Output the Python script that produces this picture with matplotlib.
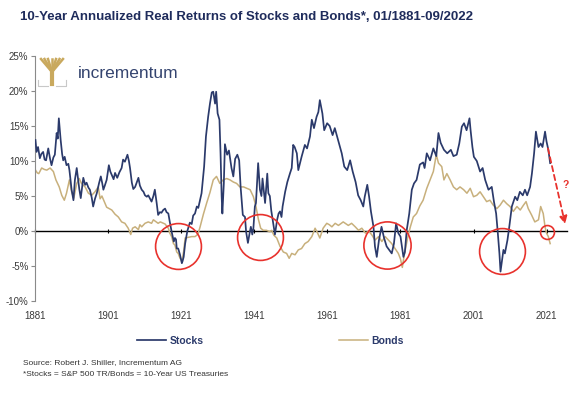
import matplotlib
matplotlib.use('Agg')
import matplotlib.pyplot as plt
from matplotlib.lines import Line2D

plt.rcParams['font.family'] = ['Liberation Sans', 'DejaVu Sans']

# values (year, annualized real return in %)
stock_years = [1881.0, 1881.3, 1881.7, 1882.2, 1882.6, 1883.1, 1883.5, 1883.9, 1884.5, 1885.0,
               1885.4, 1885.9, 1886.3, 1886.8, 1887.1, 1887.4, 1887.9, 1888.3, 1888.6, 1889.0,
               1889.5, 1890.0, 1890.3, 1890.9, 1891.4, 1891.8, 1892.3, 1892.7, 1893.0, 1893.4,
               1894.1, 1894.6, 1895.0, 1895.5, 1895.9, 1896.4, 1896.8, 1897.3, 1897.8, 1898.4,
               1898.9, 1899.3, 1899.6, 1900.0, 1900.5, 1901.1, 1901.5, 1901.9, 1902.4, 1902.8,
               1903.4, 1904.0, 1904.6, 1905.0, 1905.5, 1906.2, 1906.6, 1906.9, 1907.4, 1907.8,
               1908.3, 1908.8, 1909.2, 1909.6, 1910.1, 1910.6, 1911.0, 1911.5, 1911.9, 1912.4,
               1912.8, 1913.3, 1913.7, 1914.2, 1914.6, 1915.1, 1915.5, 1916.0, 1916.5, 1916.9,
               1917.4, 1917.8, 1918.3, 1918.9, 1919.2, 1919.5, 1919.7, 1920.1, 1920.6, 1921.1,
               1921.3, 1921.6, 1922.0, 1922.6, 1923.3, 1923.8, 1924.2, 1924.7, 1925.2, 1925.6,
               1926.1, 1926.5, 1927.2, 1927.7, 1928.3, 1928.8, 1929.3, 1929.7, 1930.2, 1930.5,
               1930.9, 1931.4, 1931.7, 1932.0, 1932.2, 1932.6, 1932.9, 1933.5, 1934.0, 1934.7,
               1935.2, 1935.7, 1936.3, 1936.8, 1937.2, 1937.8, 1938.4, 1938.7, 1939.2, 1939.6,
               1940.0, 1940.4, 1940.7, 1941.1, 1941.4, 1942.0, 1942.5, 1942.9, 1943.2, 1943.9,
               1944.5, 1944.8, 1945.2, 1945.6, 1946.0, 1946.6, 1947.2, 1947.6, 1948.0, 1948.4,
               1948.7, 1949.4, 1950.0, 1950.7, 1951.2, 1951.6, 1952.0, 1952.6, 1953.0, 1953.9,
               1954.8, 1955.4, 1956.2, 1956.7, 1957.3, 1958.0, 1958.5, 1958.9, 1959.6, 1960.1,
               1960.9, 1961.6, 1962.4, 1963.0, 1964.0, 1964.9, 1965.6, 1966.4, 1967.2, 1967.9,
               1968.7, 1969.4, 1970.1, 1970.8, 1971.2, 1971.9, 1972.4, 1972.9, 1973.6, 1974.0,
               1974.5, 1975.1, 1975.8, 1976.5, 1977.2, 1977.9, 1978.6, 1979.2, 1979.8, 1980.4,
               1981.0, 1981.8, 1982.2, 1982.7, 1983.4, 1984.1, 1984.7, 1985.4, 1986.3, 1987.2,
               1987.6, 1988.2, 1989.1, 1990.0, 1990.8, 1991.4, 1992.0, 1992.9, 1993.8, 1994.8,
               1995.5, 1996.4, 1997.1, 1997.8, 1998.4, 1999.1, 1999.9, 2000.2, 2000.7, 2001.1,
               2001.9, 2002.8, 2003.5, 2004.2, 2005.1, 2006.0, 2006.6, 2007.2, 2007.6, 2008.1,
               2008.4, 2008.8, 2009.2, 2009.6, 2010.3, 2010.8, 2011.5, 2012.4, 2013.0, 2013.7,
               2014.5, 2015.1, 2015.7, 2016.5, 2017.0, 2017.6, 2018.1, 2018.8, 2019.4, 2019.9,
               2020.6, 2021.0, 2021.5, 2022.0]
stocks = [13.0, 11.3, 12.0, 10.4, 11.0, 11.3, 10.2, 10.1, 11.8, 10.3,
          9.4, 10.5, 10.9, 14.0, 13.2, 16.1, 13.0, 11.0, 10.1, 10.6,
          9.4, 9.6, 8.7, 5.9, 4.4, 7.3, 9.0, 7.3, 6.0, 4.7,
          7.6, 6.6, 6.9, 6.2, 5.9, 4.8, 3.5, 4.6, 5.4, 6.8,
          7.8, 6.8, 5.9, 6.5, 7.3, 9.4, 8.5, 8.0, 7.4, 8.3,
          7.6, 8.4, 9.0, 10.2, 9.9, 10.9, 10.0, 9.0, 6.9, 6.0,
          6.3, 7.0, 7.6, 6.5, 5.9, 5.6, 5.1, 4.9, 5.1, 4.6,
          4.2, 5.0, 5.9, 4.0, 2.3, 2.7, 2.6, 3.0, 3.2, 2.7,
          2.5, 1.3, -0.1, -1.5, -1.0, -1.2, -2.5, -2.5, -3.4, -4.6,
          -4.3, -3.7, -1.8, 0.0, 1.2, 1.0, 2.2, 2.5, 3.5, 3.3,
          4.5, 5.4, 9.2, 13.5, 16.3, 18.2, 19.8, 19.9, 18.2, 19.9,
          16.8, 15.9, 11.1, 5.0, 2.5, 6.8, 12.4, 10.9, 11.5, 9.0,
          7.8, 10.3, 10.9, 10.1, 6.3, 2.3, 2.0, -0.1, -1.7, -0.5,
          0.6, -0.5, 0.4, 3.5, 4.0, 9.7, 5.9, 5.0, 7.5, 4.0,
          8.2, 5.4, 5.0, 2.9, 1.5, -0.5, 1.6, 2.5, 2.8, 2.0,
          3.5, 5.6, 7.0, 8.2, 9.0, 12.3, 12.0, 11.1, 8.7, 10.6,
          12.3, 11.8, 13.5, 15.9, 14.7, 16.3, 17.0, 18.7, 16.8, 14.4,
          15.4, 15.0, 13.7, 14.7, 12.8, 11.1, 9.2, 8.7, 10.1, 8.5,
          7.0, 5.1, 4.4, 3.5, 4.9, 6.6, 4.9, 2.8, 0.6, -2.2,
          -3.7, -1.3, 0.6, -1.0, -2.2, -2.7, -3.2, -1.8, 1.1, -0.3,
          -0.8, -3.7, -3.0, 0.1, 2.5, 5.9, 6.8, 7.3, 9.5, 9.8,
          9.0, 11.1, 10.1, 11.8, 10.7, 14.0, 12.6, 11.6, 11.1, 11.6,
          10.7, 10.9, 12.5, 14.9, 15.4, 14.4, 16.1, 14.4, 12.0, 10.6,
          10.0, 8.5, 9.0, 7.3, 5.9, 6.3, 4.2, 2.5, 0.1, -3.2,
          -5.8, -4.2, -2.7, -3.2, -1.3, 0.6, 3.5, 4.9, 4.4, 5.6,
          5.1, 5.9, 5.1, 6.3, 8.2, 11.1, 14.2, 12.0, 12.5, 12.0,
          14.2, 12.8, 11.6, 9.7]

bond_years = [1881.0, 1881.5, 1881.9, 1882.7, 1883.4, 1884.1, 1885.0, 1885.9, 1886.6, 1887.5,
              1888.2, 1888.9, 1889.5, 1890.3, 1890.9, 1891.5, 1892.3, 1893.0, 1893.6, 1894.6,
              1895.5, 1896.4, 1897.3, 1898.2, 1898.7, 1899.2, 1900.0, 1900.5, 1901.9, 1902.8,
              1903.7, 1904.2, 1904.6, 1905.5, 1906.4, 1907.1, 1907.6, 1908.3, 1909.2, 1909.6,
              1910.1, 1911.0, 1911.9, 1912.8, 1913.3, 1914.6, 1915.2, 1916.5, 1917.4, 1917.8,
              1918.3, 1918.8, 1919.2, 1919.7, 1920.1, 1920.6, 1920.9, 1921.1, 1921.6, 1922.0,
              1922.9, 1923.8, 1924.7, 1925.2, 1925.6, 1926.1, 1927.0, 1927.9, 1928.8, 1929.7,
              1930.6, 1931.5, 1932.4, 1933.4, 1934.3, 1935.2, 1936.1, 1937.0, 1938.0, 1938.9,
              1939.8, 1940.7, 1941.4, 1942.1, 1942.7, 1943.4, 1944.3, 1945.2, 1945.7, 1946.3,
              1947.1, 1948.0, 1948.9, 1949.8, 1950.5, 1951.2, 1952.1, 1953.0, 1953.9, 1954.8,
              1955.7, 1956.7, 1957.6, 1958.3, 1958.9, 1959.8, 1960.8, 1961.5, 1962.2, 1963.1,
              1964.0, 1965.3, 1966.7, 1967.6, 1968.6, 1969.5, 1970.4, 1971.4, 1972.3, 1973.2,
              1974.0, 1975.0, 1975.9, 1976.8, 1977.7, 1978.6, 1979.5, 1980.4, 1981.0, 1981.5,
              1982.0, 1982.5, 1983.1, 1983.7, 1984.5, 1985.4, 1986.3, 1987.2, 1988.2, 1989.1,
              1990.0, 1990.8, 1991.4, 1992.3, 1992.9, 1993.7, 1994.6, 1995.5, 1996.4, 1997.3,
              1998.3, 1999.2, 2000.1, 2001.0, 2001.9, 2002.8, 2003.7, 2004.6, 2005.5, 2006.4,
              2007.4, 2008.3, 2009.2, 2010.1, 2011.0, 2011.9, 2012.9, 2013.8, 2014.7, 2015.4,
              2016.0, 2016.9, 2017.8, 2018.8, 2019.4, 2020.1, 2020.6, 2021.0, 2021.5, 2022.0]
bonds = [8.7, 8.3, 8.2, 9.0, 8.8, 8.7, 9.0, 8.5, 7.3, 6.3,
         5.1, 4.4, 5.4, 7.3, 5.6, 4.7, 6.8, 7.5, 6.8, 6.3,
         5.4, 5.1, 5.6, 6.3, 4.6, 5.0, 4.0, 3.4, 3.0, 2.4,
         2.0, 1.6, 1.3, 1.1, 0.4, -0.5, 0.4, 0.6, 0.2, 0.9,
         0.6, 1.1, 1.3, 1.1, 1.6, 1.1, 1.3, 1.0, 0.4, -0.3,
         -0.8, -1.8, -2.0, -3.0, -3.2, -3.9, -4.1, -4.4, -2.9, -1.0,
         -0.9, -0.8, -0.8, -0.6, -0.3, 0.6, 2.4, 4.0, 5.5, 7.3,
         7.8, 6.8, 7.3, 7.5, 7.3, 7.0, 6.8, 6.3, 6.3, 6.1,
         5.9, 4.9, 3.5, 1.6, 0.4, 0.1, 0.1, -0.1, 0.1, -0.6,
         -1.0, -2.2, -3.0, -3.2, -3.9, -3.2, -3.4, -2.7, -2.5, -1.8,
         -1.5, -0.8, 0.4, -0.3, -1.0, 0.4, 1.1, 0.9, 0.6, 1.1,
         0.8, 1.3, 0.8, 1.1, 0.6, 0.1, 0.4, -0.3, 0.0, -0.6,
         -1.3, -0.8, -1.5, -0.8, -1.3, -1.8, -2.5, -3.2, -4.0, -5.2,
         -3.5, -2.2, -0.6, 0.6, 2.0, 2.5, 3.6, 4.4, 6.1, 7.3,
         8.5, 10.9, 9.7, 9.2, 7.3, 8.2, 7.3, 6.3, 5.9, 6.3,
         5.9, 5.4, 6.1, 4.9, 5.1, 5.6, 4.9, 4.2, 4.4, 3.7,
         3.2, 3.7, 4.4, 3.9, 3.5, 2.8, 3.5, 3.0, 3.7, 4.2,
         3.2, 2.3, 1.3, 1.6, 3.5, 2.5, 0.6, -0.3, -0.8, -1.8]

year_ticks = [1881, 1901, 1921, 1941, 1961, 1981, 2001, 2021]
pct_ticks = [-10, -5, 0, 5, 10, 15, 20, 25]

# highlighted episodes (year, value) and their circle sizes
circle_years = [1920.1, 1942.6, 1977.3, 2008.8, 2021.1]
circle_vals = [-2.2, -0.8, -2.0, -2.8, -0.2]
circle_sizes = [33, 33, 34, 33, 10]

navy = '#2b3a6b'
tan = '#c8b07c'
red = '#e8322d'

fig = plt.figure(figsize=(5.75, 3.99), dpi=100)
ax = fig.add_axes([0.0617, 0.2456, 0.9243, 0.614])

l_bonds, = ax.plot(bond_years, bonds, color=tan, lw=1.1, zorder=2)
l_stocks, = ax.plot(stock_years, stocks, color=navy, lw=1.25, zorder=3)

for cx, cy, s in zip(circle_years, circle_vals, circle_sizes):
    ax.plot(cx, cy, 'o', ms=s, mfc='none', mec=red, mew=1.2, zorder=4)

# dashed arrow with question mark
ax.annotate('', xy=(2026.1, 1.0), xytext=(2021.4, 11.8),
            arrowprops=dict(arrowstyle='-|>', color=red, lw=1.3, ls=(0, (3, 2)),
                            mutation_scale=11, shrinkA=0, shrinkB=0))
ax.text(2026.3, 6.6, '?', color=red, fontsize=7.5, fontweight='bold',
        ha='center', va='center')

ax.set_xlim(1881, 2026.6)
ax.set_ylim(-10, 25)
ax.set_yticks(pct_ticks)
ax.set_yticklabels([f'{v}%' for v in pct_ticks])
ax.set_xticks(year_ticks)
ax.set_xticklabels([str(y) for y in year_ticks])

for side in ['top', 'right', 'bottom']:
    ax.spines[side].set_visible(False)
ax.spines['left'].set_color('#8a8a8a')
ax.tick_params(axis='y', direction='out', length=3, color='#8a8a8a',
               labelsize=7, labelcolor='#3a3a3a', pad=2)
ax.tick_params(axis='x', length=0, labelsize=7, labelcolor='#3a3a3a', pad=7)

# zero line with its own small ticks
zero = ax.secondary_xaxis(10 / 35)
zero.set_xticks(year_ticks)
zero.set_xticklabels([])
zero.spines['bottom'].set_color('black')
zero.spines['bottom'].set_linewidth(1.0)
zero.tick_params(direction='inout', length=3, color='black')

# title
fig.text(0.035, 0.957, '10-Year Annualized Real Returns of Stocks and Bonds*, 01/1881-09/2022',
         fontsize=9.5, fontweight='bold', color='#1f2c5c', va='center', ha='left')

# logo
W, H = 575, 399
def px(x, y):
    return x / W, 1 - y / H

for bx in [41, 44.5, 48, 52, 56, 59.5, 63]:
    x0, y0 = px(52, 72)
    x1, y1 = px(bx, 59)
    fig.add_artist(Line2D([x0, x1], [y0, y1], color='#c9a95e', lw=1.8))
tx0, ty0 = px(52, 71)
tx1, ty1 = px(52, 84)
fig.add_artist(Line2D([tx0, tx1], [ty0, ty1], color='#c9a95e', lw=3))
for xs, ys in [([38, 38, 48], [80, 86, 86]), ([56, 66, 66], [86, 86, 80])]:
    fig.add_artist(Line2D([x / W for x in xs], [1 - y / H for y in ys],
                          color='#c8c8c8', lw=0.8))
lx, ly = px(78, 73)
fig.text(lx, ly, 'incrementum', fontsize=12.5, color='#34446f', va='center', ha='left')

# legend
leg = fig.legend(handles=[l_stocks, l_bonds], labels=['Stocks', 'Bonds'],
                 loc='center', bbox_to_anchor=(0.47, 0.145), ncol=2, frameon=False,
                 prop={'size': 7.5, 'weight': 'bold'}, handlelength=2.8,
                 handletextpad=0.3, columnspacing=13)
for t in leg.get_texts():
    t.set_color('#2b3a6b')

sx, sy = px(23, 363)
fig.text(sx, sy, 'Source: Robert J. Shiller, Incrementum AG', fontsize=6,
         color='#333333', va='center', ha='left')
sx, sy = px(23, 375)
fig.text(sx, sy, '*Stocks = S&P 500 TR/Bonds = 10-Year US Treasuries', fontsize=6,
         color='#333333', va='center', ha='left')

fig.savefig('out.png', dpi=100)
